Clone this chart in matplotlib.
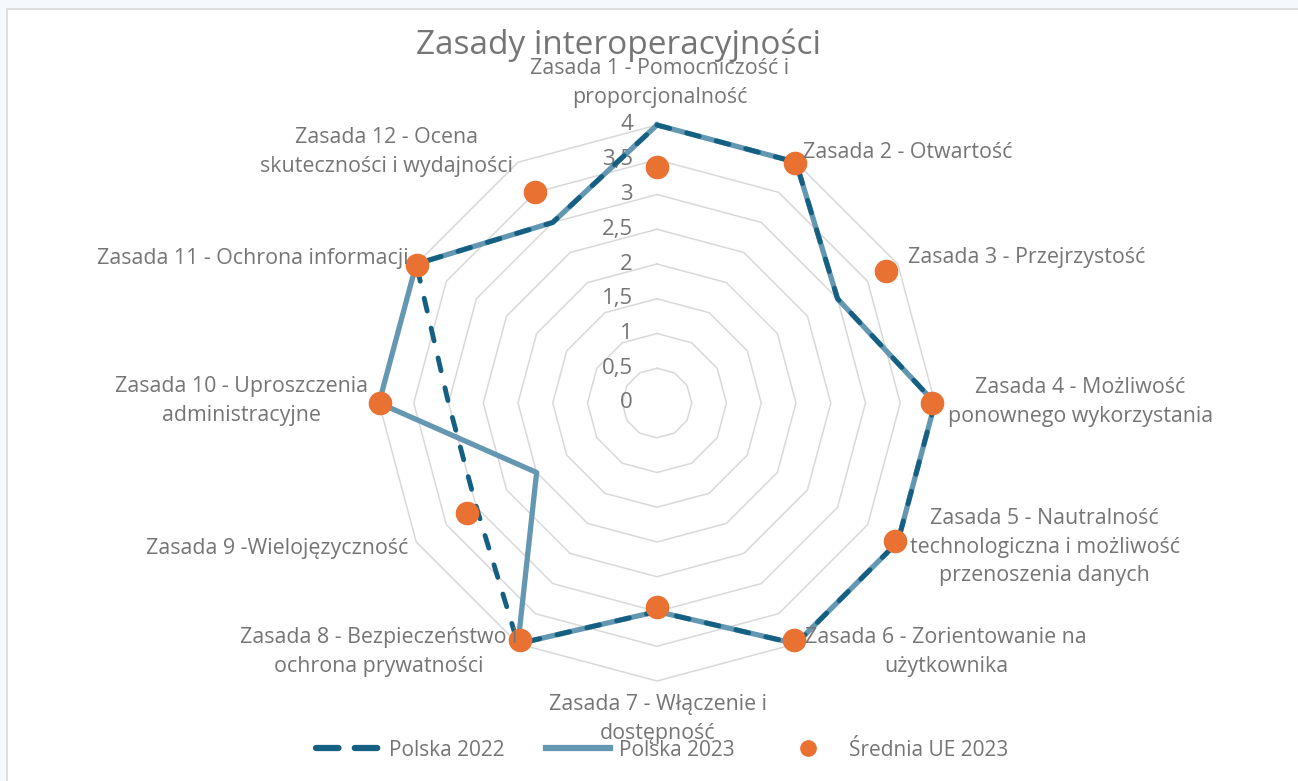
import numpy as np
import matplotlib
matplotlib.use("Agg")
import matplotlib.pyplot as plt
from matplotlib.lines import Line2D
from matplotlib.patches import Rectangle

plt.rcParams['font.family'] = ['Open Sans', 'DejaVu Sans']

kategorie = [
    "Zasada 1 - Pomocniczość i\nproporcjonalność",
    "Zasada 2 - Otwartość",
    "Zasada 3 - Przejrzystość",
    "Zasada 4 - Możliwość\nponownego wykorzystania",
    "Zasada 5 - Nautralność\ntechnologiczna i możliwość\nprzenoszenia danych",
    "Zasada 6 - Zorientowanie na\nużytkownika",
    "Zasada 7 - Włączenie i\ndostępność",
    "Zasada 8 - Bezpieczeństwo i\nochrona prywatności",
    "Zasada 9 -Wielojęzyczność",
    "Zasada 10 - Uproszczenia\nadministracyjne",
    "Zasada 11 - Ochrona informacji",
    "Zasada 12 - Ocena\nskuteczności i wydajności",
]
polska_2022 = [4, 4, 3, 4, 4, 4, 3, 4, 3, 3, 4, 3]
polska_2023 = [4, 4, 3, 4, 4, 4, 3, 4, 2, 4, 4, 3]
srednia_ue_2023 = [3.4, 3.98, 3.8, 3.95, 3.96, 3.93, 2.93, 3.93, 3.16, 3.98, 3.98, 3.5]
poziomy = [0, 0.5, 1, 1.5, 2, 2.5, 3, 3.5, 4]
etykiety_poziomow = ["0", "0,5", "1", "1,5", "2", "2,5", "3", "3,5", "4"]

szary = "#757575"
ciemny = "#156082"
jasny = "#6497b1"
pomarancz = "#E97132"
kreska = (0, (2.7, 3.6))

W, H = 1298, 781
fig = plt.figure(figsize=(W / 100, H / 100), dpi=100, facecolor="#f5f8fd")
fig.patches.append(Rectangle((7 / W, -0.1), 1.2, 1.1 - 9 / H, transform=fig.transFigure,
                             facecolor="white", edgecolor="#d9d9d9", lw=1.2, zorder=-5))

cx, cy, R = 657, 403, 278
ax = fig.add_axes([(cx - R) / W, (H - cy - R) / H, 2 * R / W, 2 * R / H], polar=True)
ax.set_theta_zero_location("N")
ax.set_theta_direction(-1)
ax.set_ylim(0, 4)
ax.axis("off")

n = len(kategorie)
kat = np.linspace(0, 2 * np.pi, n, endpoint=False)
kat_z = np.append(kat, kat[0])

# siatka wielokatna (bez promieni)
for p in poziomy[1:]:
    ax.plot(kat_z, [p] * (n + 1), color="#d9d9d9", lw=1.1, zorder=1, clip_on=False)

for p, et in zip(poziomy, etykiety_poziomow):
    ax.annotate(et, xy=(0, p), xytext=(-24, 0), textcoords="offset pixels",
                ha="right", va="center", fontsize=16, color=szary, zorder=2)

ax.plot(kat_z, polska_2023 + polska_2023[:1], color=jasny, lw=3.8, zorder=3,
        clip_on=False)
ax.plot(kat_z, polska_2022 + polska_2022[:1], color=ciemny, lw=3.5, zorder=4,
        linestyle=kreska, dash_capstyle="round", clip_on=False)
ax.plot(kat, srednia_ue_2023, "o", color=pomarancz, ms=16, zorder=5, clip_on=False)

# polozenie etykiet kategorii
przes = [(3, 42, "center"), (7, 10, "left"), (10, 6, "left"), (13, 1, "left"),
         (12, -5, "left"), (9, -8, "left"), (1, -38, "center"), (-1, -8, "right"),
         (-8, -6, "right"), (-11, 2, "right"), (-8, 6, "right"), (-5, 10, "right")]
for k, tekst, (dx, dy, ha) in zip(kat, kategorie, przes):
    ax.annotate(tekst, xy=(k, 4), xytext=(dx, dy), textcoords="offset pixels",
                ha=ha, va="center", multialignment="center", fontsize=15.4,
                color=szary, linespacing=1.5, zorder=6, annotation_clip=False)

fig.text(618 / W, 1 - 45 / H, "Zasady interoperacyjności", ha="center", va="center",
         fontsize=24, color=szary)

uchwyty = [
    Line2D([], [], color=ciemny, lw=4.5, linestyle=(0, (3.6, 2.6)),
           dash_capstyle="round"),
    Line2D([], [], color=jasny, lw=4.5),
    Line2D([], [], color=pomarancz, marker="o", ms=11, lw=0),
]
fig.legend(uchwyty, ["Polska 2022", "Polska 2023", "Średnia UE 2023"],
           loc="center", bbox_to_anchor=(662 / W, 1 - 750 / H), ncol=3,
           frameon=False, fontsize=15, labelcolor=szary, handlelength=3.1,
           columnspacing=2.0, handletextpad=0.4)

fig.savefig("out.png", dpi=100, facecolor=fig.get_facecolor())
